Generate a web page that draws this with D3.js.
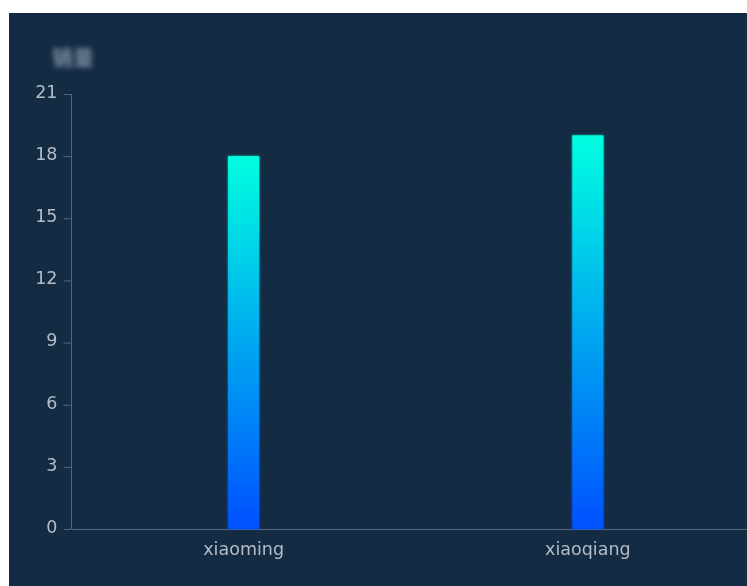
<!DOCTYPE html>
<html><head><meta charset="utf-8">
<script src="https://cdn.jsdelivr.net/npm/d3@7"></script>
<style>html,body{margin:0;padding:0;background:#fff;overflow:hidden}</style>
</head><body>
<svg id="c" width="747" height="586"></svg>
<script>
const categories = ["xiaoming", "xiaoqiang"];
const values = [18, 19];
const yTicks = [0, 3, 6, 9, 12, 15, 18, 21];
const title = "销量";

const svg = d3.select("#c");
const W = 747, H = 586;
const font = "'DejaVu Sans', sans-serif";
const fs = 17.5;

svg.append("rect").attr("x", 9).attr("y", 13).attr("width", W - 9).attr("height", H - 13).attr("fill", "#142b44");

const defs = svg.append("defs");
const grad = defs.append("linearGradient").attr("id", "g").attr("x1", 0).attr("y1", 0).attr("x2", 0).attr("y2", 1);
grad.append("stop").attr("offset", "0%").attr("stop-color", "#00ffe0");
grad.append("stop").attr("offset", "100%").attr("stop-color", "#0050ff");
const blur = defs.append("filter").attr("id", "bl").attr("x", "-50%").attr("y", "-50%").attr("width", "200%").attr("height", "200%");
blur.append("feGaussianBlur").attr("stdDeviation", 2.6);
const glow = defs.append("filter").attr("id", "gl").attr("x", "-20%").attr("y", "-5%").attr("width", "140%").attr("height", "110%");
glow.append("feGaussianBlur").attr("in", "SourceGraphic").attr("stdDeviation", 1.2).attr("result", "b");
const m = glow.append("feMerge");
m.append("feMergeNode").attr("in", "b");
m.append("feMergeNode").attr("in", "SourceGraphic");
const soft = defs.append("filter").attr("id", "sf");
soft.append("feGaussianBlur").attr("stdDeviation", 0.35);

const x = d3.scaleBand().domain(categories).range([71.5, 760]);
const y = d3.scaleLinear().domain([0, 21]).range([529, 94]);

// title (blurred)
svg.append("text").attr("x", 52).attr("y", 65).attr("fill", "#7a8ca1")
  .attr("font-family", "'Noto Sans CJK SC', sans-serif").attr("font-weight", "bold").attr("font-size", 21).attr("filter", "url(#bl)").text(title);

// y axis
const yAxis = d3.axisLeft(y).tickValues(yTicks).tickSize(8).tickPadding(6);
const gy = svg.append("g").attr("transform", "translate(71.5,0)").call(yAxis);
gy.select(".domain").attr("stroke", "#56677b").attr("d", `M0,${y(21)}V${y(0)}`);
gy.selectAll(".tick line").attr("stroke", "#56677b");
gy.selectAll(".tick text").attr("fill", "#b3bcc6").attr("font-size", fs).attr("font-family", font)
  .attr("dy", "0.19em").attr("filter", "url(#sf)");

// x axis
const xAxis = d3.axisBottom(x).tickSize(0).tickPadding(14);
const gx = svg.append("g").attr("transform", `translate(0,${y(0)})`).call(xAxis);
gx.select(".domain").attr("stroke", "#56677b");
gx.selectAll(".tick text").attr("fill", "#b3bcc6").attr("font-size", fs).attr("font-family", font)
  .attr("filter", "url(#sf)");

// bars
const bw = 31;
svg.append("g").selectAll("rect").data(values).join("rect")
  .attr("x", (d, i) => x(categories[i]) + x.bandwidth() / 2 - bw / 2)
  .attr("y", d => y(d))
  .attr("width", bw)
  .attr("height", d => y(0) - y(d))
  .attr("fill", "url(#g)")
  .attr("filter", "url(#gl)");
</script>
</body></html>
